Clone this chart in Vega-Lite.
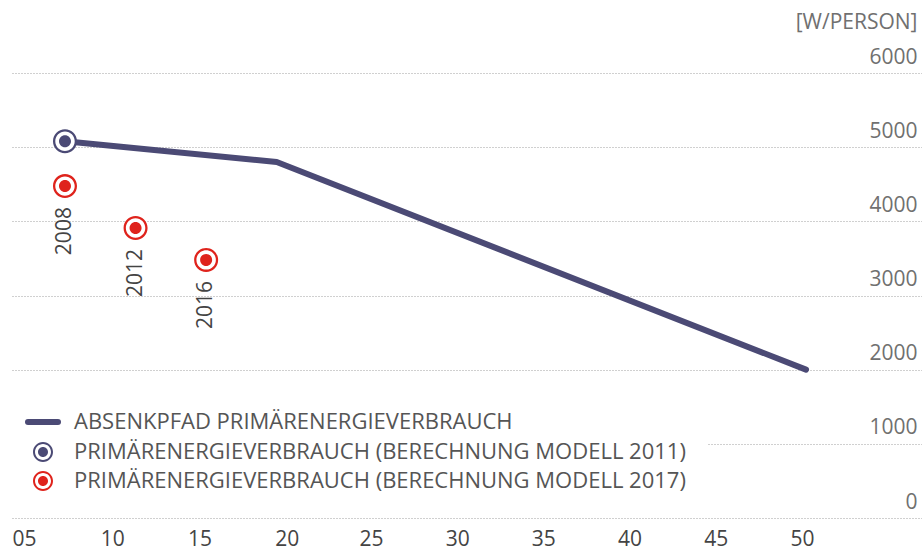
{
  "$schema": "https://vega.github.io/schema/vega-lite/v6.json",
  "width": 912,
  "height": 445,
  "autosize": {"type": "none"},
  "padding": {"left": 10, "top": 73, "right": 0, "bottom": 33},
  "background": "white",
  "config": {"font": "Open Sans", "view": {"stroke": null}},
  "data": {
    "values": [
      {"series": "ABSENKPFAD PRIMÄRENERGIEVERBRAUCH", "year": 2008, "value": 5080, "label": ""},
      {"series": "ABSENKPFAD PRIMÄRENERGIEVERBRAUCH", "year": 2020, "value": 4800, "label": ""},
      {"series": "ABSENKPFAD PRIMÄRENERGIEVERBRAUCH", "year": 2050, "value": 2000, "label": ""},
      {"series": "PRIMÄRENERGIEVERBRAUCH (BERECHNUNG MODELL 2011)", "year": 2008, "value": 5080, "label": ""},
      {"series": "PRIMÄRENERGIEVERBRAUCH (BERECHNUNG MODELL 2017)", "year": 2008, "value": 4475, "label": "2008"},
      {"series": "PRIMÄRENERGIEVERBRAUCH (BERECHNUNG MODELL 2017)", "year": 2012, "value": 3910, "label": "2012"},
      {"series": "PRIMÄRENERGIEVERBRAUCH (BERECHNUNG MODELL 2017)", "year": 2016, "value": 3480, "label": "2016"}
    ]
  },
  "encoding": {
    "x": {
      "field": "year",
      "type": "quantitative",
      "scale": {"domain": [2004.883, 2056.574], "nice": false, "zero": false},
      "axis": {
        "orient": "bottom",
        "values": [2005, 2010, 2015, 2020, 2025, 2030, 2035, 2040, 2045, 2050],
        "labelExpr": "substring(toString(datum.value), 2)",
        "domain": false,
        "ticks": false,
        "grid": false,
        "labelFontSize": 21,
        "labelColor": "#444444",
        "labelPadding": 10,
        "labelFlush": false,
        "labelOverlap": false,
        "title": null,
        "labelOffset": {
          "condition": [
            {"test": "datum.value <= 2010", "value": 12},
            {"test": "datum.value <= 2015", "value": 11},
            {"test": "datum.value <= 2020", "value": 10},
            {"test": "datum.value <= 2025", "value": 6},
            {"test": "datum.value <= 2030", "value": 4},
            {"test": "datum.value <= 2035", "value": 2},
            {"test": "datum.value <= 2040", "value": 0},
            {"test": "datum.value <= 2045", "value": -2}
          ],
          "value": -4
        }
      }
    },
    "y": {
      "field": "value",
      "type": "quantitative",
      "scale": {"domain": [0, 6000], "nice": false},
      "axis": {
        "orient": "right",
        "values": [0, 1000, 2000, 3000, 4000, 5000, 6000],
        "format": "d",
        "grid": true,
        "gridColor": "#a0a0a0",
        "gridDash": [1, 2],
        "gridWidth": 1,
        "domain": false,
        "ticks": false,
        "labelAlign": "right",
        "labelBaseline": "alphabetic",
        "labelPadding": -5,
        "labelOffset": -10,
        "labelFontSize": 21,
        "labelColor": "#707070",
        "labelFlush": false,
        "title": "[W/PERSON]",
        "titleAngle": 0,
        "titleAlign": "right",
        "titleBaseline": "alphabetic",
        "titleX": -5,
        "titleY": -45,
        "titleFontSize": 21,
        "titleFontWeight": "normal",
        "titleColor": "#707070"
      }
    }
  },
  "layer": [
    {
      "transform": [{"filter": "datum.series === 'ABSENKPFAD PRIMÄRENERGIEVERBRAUCH'"}],
      "mark": {"type": "line", "strokeWidth": 6, "strokeCap": "round", "strokeJoin": "round"},
      "encoding": {
        "color": {
          "field": "series",
          "type": "nominal",
          "scale": {
            "domain": ["ABSENKPFAD PRIMÄRENERGIEVERBRAUCH", "PRIMÄRENERGIEVERBRAUCH (BERECHNUNG MODELL 2011)", "PRIMÄRENERGIEVERBRAUCH (BERECHNUNG MODELL 2017)"],
            "range": ["#4b4a75", "#4b4a75", "#df231c"]
          },
          "legend": {
            "orient": "none",
            "legendX": 0,
            "legendY": 316,
            "title": null,
            "fillColor": "white",
            "padding": 22,
            "labelFontSize": 22,
            "labelColor": "#555555",
            "labelLimit": 0,
            "symbolSize": 900,
            "rowPadding": 7,
            "labelOffset": 20,
            "encode": {
              "symbols": {
                "update": {
                  "shape": {"signal": "datum.index === 0 ? 'M-1,0L1,0' : 'M1,0C1,0.5523,0.5523,1,0,1C-0.5523,1,-1,0.5523,-1,0C-1,-0.5523,-0.5523,-1,0,-1C0.5523,-1,1,-0.5523,1,0ZM0.8,0C0.8,-0.4418,0.4418,-0.8,0,-0.8C-0.4418,-0.8,-0.8,-0.4418,-0.8,0C-0.8,0.4418,-0.4418,0.8,0,0.8C0.4418,0.8,0.8,0.4418,0.8,0ZM0.5,0C0.5,0.2762,0.2762,0.5,0,0.5C-0.2762,0.5,-0.5,0.2762,-0.5,0C-0.5,-0.2762,-0.2762,-0.5,0,-0.5C0.2762,-0.5,0.5,-0.2762,0.5,0Z'"},
                  "size": {"signal": "datum.index === 0 ? 900 : 400"},
                  "strokeWidth": {"signal": "datum.index === 0 ? 6 : 0"},
                  "strokeCap": {"value": "round"},
                  "stroke": {"signal": "datum.index === 0 ? '#4b4a75' : 'transparent'"},
                  "fill": {"signal": "datum.index === 0 ? 'transparent' : (datum.index === 1 ? '#4b4a75' : '#df231c')"},
                  "opacity": {"value": 1}
                }
              }
            }
          }
        }
      }
    },
    {
      "transform": [{"filter": "datum.series !== 'ABSENKPFAD PRIMÄRENERGIEVERBRAUCH'"}],
      "mark": {"type": "point", "shape": "circle", "filled": true, "fill": "white", "size": 500, "opacity": 1, "strokeWidth": 0}
    },
    {
      "transform": [{"filter": "datum.series !== 'ABSENKPFAD PRIMÄRENERGIEVERBRAUCH'"}],
      "mark": {
        "type": "point",
        "shape": "M1,0C1,0.5523,0.5523,1,0,1C-0.5523,1,-1,0.5523,-1,0C-1,-0.5523,-0.5523,-1,0,-1C0.5523,-1,1,-0.5523,1,0ZM0.81,0C0.81,-0.4474,0.4474,-0.81,0,-0.81C-0.4474,-0.81,-0.81,-0.4474,-0.81,0C-0.81,0.4474,-0.4474,0.81,0,0.81C0.4474,0.81,0.81,0.4474,0.81,0ZM0.5,0C0.5,0.2762,0.2762,0.5,0,0.5C-0.2762,0.5,-0.5,0.2762,-0.5,0C-0.5,-0.2762,-0.2762,-0.5,0,-0.5C0.2762,-0.5,0.5,-0.2762,0.5,0Z",
        "filled": true,
        "size": 576,
        "opacity": 1,
        "strokeWidth": 0
      },
      "encoding": {"color": {"field": "series", "type": "nominal"}}
    },
    {
      "transform": [{"filter": "datum.label !== ''"}],
      "mark": {"type": "text", "angle": 270, "align": "right", "baseline": "middle", "dx": -21, "fontSize": 21, "color": "#444444"},
      "encoding": {"text": {"field": "label"}}
    }
  ]
}
